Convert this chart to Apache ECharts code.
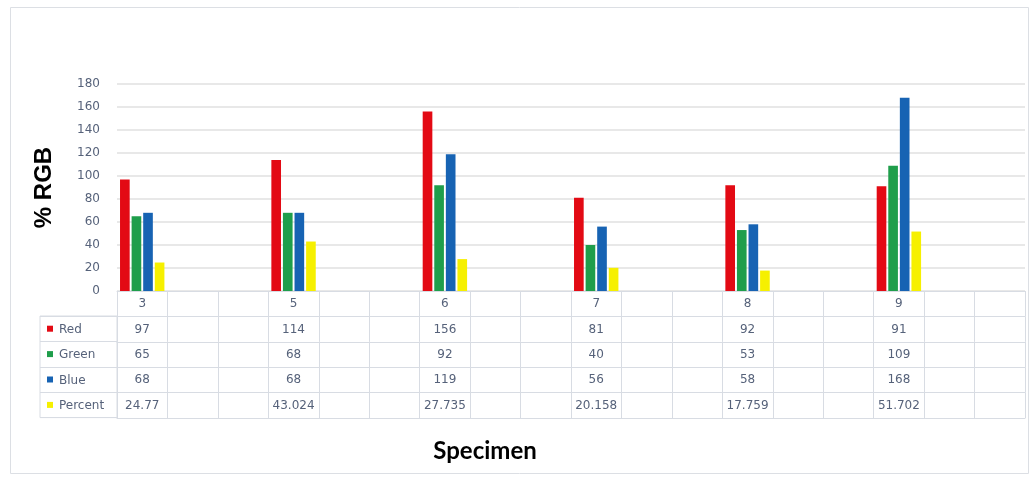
<!DOCTYPE html>
<html>
<head>
<meta charset="utf-8">
<script src="https://cdn.jsdelivr.net/npm/echarts@6/dist/echarts.min.js"></script>
<style>
  html, body { margin: 0; padding: 0; background: #ffffff; }
  #chart { width: 1034px; height: 477px; }
</style>
</head>
<body>
<div id="chart"></div>
<script>
// Specimens and their measured colour channels
const specimens = ['3', '5', '6', '7', '8', '9'];
const redValues = [97, 114, 156, 81, 92, 91];
const greenValues = [65, 68, 92, 40, 53, 109];
const blueValues = [68, 68, 119, 56, 58, 168];
const percentValues = [24.77, 43.024, 27.735, 20.158, 17.759, 51.702];

const seriesNames = ['Red', 'Green', 'Blue', 'Percent'];
const seriesColors = ['#e30a14', '#1f9e4b', '#1763b3', '#f6f000'];
const yTicks = { min: 0, max: 180, step: 20 };

// each specimen owns one column followed by two empty columns
const SLOTS_PER_SPECIMEN = 3;
const slotKeys = [];
for (let i = 0; i < specimens.length * SLOTS_PER_SPECIMEN; i++) slotKeys.push('c' + i);

function spread(values, empty) {
  const out = [];
  values.forEach(v => {
    out.push(v);
    for (let k = 1; k < SLOTS_PER_SPECIMEN; k++) out.push(empty);
  });
  return out;
}

const valueRows = [redValues, greenValues, blueValues, percentValues];
const headerRow = spread(specimens, '');
const tableRows = valueRows.map(r => spread(r.map(String), ''));

const TEXT = '#56627a';
const LINE = '#d8dce3';
const FONT = 'DejaVu Sans';
const ROW_H = 25.4;

function tableAxis(labels, rowIndex) {
  return {
    type: 'category',
    gridIndex: 0,
    position: 'bottom',
    offset: rowIndex * ROW_H,
    data: slotKeys,
    boundaryGap: true,
    axisLine: { show: true, lineStyle: { color: LINE, width: 1 } },
    axisTick: { show: true, interval: 0, length: ROW_H, lineStyle: { color: LINE, width: 1 } },
    axisLabel: {
      show: true, interval: 0, margin: 7,
      fontFamily: FONT, fontSize: 12, color: TEXT,
      formatter: (v, i) => labels[i]
    },
    splitLine: { show: false }
  };
}

const xAxes = [tableAxis(headerRow, 0)];
tableRows.forEach((row, i) => xAxes.push(tableAxis(row, i + 1)));
// closing line under the last table row
xAxes.push({
  type: 'category', gridIndex: 0, position: 'bottom',
  offset: (tableRows.length + 1) * ROW_H, data: slotKeys,
  axisLine: { show: true, lineStyle: { color: LINE, width: 1 } },
  axisTick: { show: false }, axisLabel: { show: false }
});
// value axis for the legend column grid (not shown)
xAxes.push({ type: 'value', gridIndex: 1, show: false });

const markerRich = {};
seriesColors.forEach((c, i) => {
  markerRich['m' + i] = { width: 6, height: 6, backgroundColor: c };
});
markerRich.t = { fontFamily: FONT, fontSize: 12, color: TEXT, padding: [2, 0, 0, 6] };

const option = {
  animation: false,
  backgroundColor: '#ffffff',
  title: {
    text: 'Specimen',
    left: 485, top: 439, textAlign: 'center', padding: 0,
    textStyle: { fontFamily: 'Lato', fontWeight: 'bold', fontSize: 24, color: '#000000' }
  },
  graphic: [{
    type: 'rect', z: -1, silent: true,
    shape: { x: 10.5, y: 7.5, width: 1018, height: 466 },
    style: { fill: 'none', stroke: '#dcdfe4', lineWidth: 1 }
  }],
  grid: [
    { left: 117, right: 9, top: 84, bottom: 186 },
    { left: 40, top: 316, width: 77, height: 4 * ROW_H, show: true, borderColor: LINE, borderWidth: 1, backgroundColor: 'transparent' }
  ],
  xAxis: xAxes,
  yAxis: [
    {
      type: 'value', gridIndex: 0,
      min: yTicks.min, max: yTicks.max, interval: yTicks.step,
      name: '% RGB', nameLocation: 'middle', nameRotate: 90, nameGap: 61,
      nameTextStyle: { fontFamily: 'Liberation Sans', fontWeight: 'bold', fontSize: 24, color: '#000000' },
      axisLine: { show: false }, axisTick: { show: false },
      axisLabel: { margin: 17, fontFamily: FONT, fontSize: 12, color: TEXT },
      splitLine: { lineStyle: { color: '#e0e0e0', width: 1.5 } }
    },
    {
      type: 'category', gridIndex: 1, inverse: true,
      data: seriesNames,
      axisLine: { show: false }, axisTick: { show: false },
      splitLine: { show: true, interval: 0, lineStyle: { color: LINE, width: 1 } },
      axisLabel: {
        inside: true, margin: 7, interval: 0,
        formatter: (v, i) => '{m' + i + '|}{t|' + v + '}',
        rich: markerRich
      }
    }
  ],
  series: valueRows.map((vals, i) => ({
    name: seriesNames[i],
    type: 'bar',
    xAxisIndex: 0, yAxisIndex: 0,
    data: spread(vals, null),
    itemStyle: { color: seriesColors[i] },
    barCategoryGap: '12%',
    barGap: '20%'
  }))
};

const chart = echarts.init(document.getElementById('chart'), null, { renderer: 'canvas' });
chart.setOption(option);
</script>
</body>
</html>
